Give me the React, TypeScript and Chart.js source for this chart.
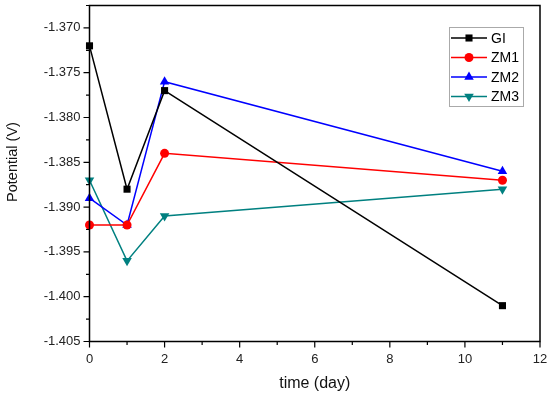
import { useEffect, useRef } from 'react';
import { Chart, registerables } from 'chart.js';
Chart.register(...registerables);

const days = [0, 1, 2, 11];
const giValues = [-1.372, -1.388, -1.377, -1.401];
const zm1Values = [-1.392, -1.392, -1.384, -1.387];
const zm2Values = [-1.389, -1.392, -1.376, -1.386];
const zm3Values = [-1.387, -1.396, -1.391, -1.388];
const seriesNames = ['GI', 'ZM1', 'ZM2', 'ZM3'];
const xTicks = [0, 2, 4, 6, 8, 10, 12];
const xMinorTicks = [1, 3, 5, 7, 9, 11];
const yTicks = [-1.405, -1.4, -1.395, -1.39, -1.385, -1.38, -1.375, -1.37];
const yMinorTicks = [-1.4025, -1.3975, -1.3925, -1.3875, -1.3825, -1.3775, -1.3725, -1.3675];
const yTitle = 'Potential (V)';
const xTitle = 'time (day)';

const FONT = 'Liberation Sans, Arial, sans-serif';

function drawMarker(ctx: CanvasRenderingContext2D, style: string, r: number, rot: number, x: number, y: number) {
  ctx.beginPath();
  if (style === 'rect') {
    const s = r * Math.SQRT1_2;
    ctx.rect(x - s, y - s, 2 * s, 2 * s);
  } else if (style === 'circle') {
    ctx.arc(x, y, r, 0, Math.PI * 2);
  } else {
    const a0 = (rot * Math.PI) / 180 - Math.PI / 2;
    for (let k = 0; k < 3; k++) {
      const a = a0 + (k * 2 * Math.PI) / 3;
      const px = x + r * Math.cos(a);
      const py = y + r * Math.sin(a);
      if (k === 0) ctx.moveTo(px, py); else ctx.lineTo(px, py);
    }
    ctx.closePath();
  }
  ctx.fill();
}

const framePlugin = {
  id: 'frame',
  afterDraw(chart: any) {
    const ctx = chart.ctx;
    const { left, right, top, bottom } = chart.chartArea;
    const xs = chart.scales.x;
    const ys = chart.scales.y;
    ctx.save();
    ctx.strokeStyle = '#000';
    ctx.lineWidth = 1.5;
    ctx.strokeRect(left, top, right - left, bottom - top);
    ctx.lineWidth = 1.2;
    ctx.beginPath();
    xTicks.forEach((v) => {
      const px = xs.getPixelForValue(v);
      ctx.moveTo(px, bottom);
      ctx.lineTo(px, bottom + 6);
    });
    xMinorTicks.forEach((v) => {
      const px = xs.getPixelForValue(v);
      ctx.moveTo(px, bottom);
      ctx.lineTo(px, bottom + 3.5);
    });
    yTicks.forEach((v) => {
      const py = ys.getPixelForValue(v);
      ctx.moveTo(left, py);
      ctx.lineTo(left - 6, py);
    });
    yMinorTicks.forEach((v) => {
      const py = ys.getPixelForValue(v);
      ctx.moveTo(left, py);
      ctx.lineTo(left - 3.5, py);
    });
    ctx.stroke();

    // y axis title
    ctx.save();
    ctx.translate(13, 162);
    ctx.rotate(-Math.PI / 2);
    ctx.fillStyle = '#111';
    ctx.font = `14.5px ${FONT}`;
    ctx.textAlign = 'center';
    ctx.textBaseline = 'middle';
    ctx.fillText(yTitle, 0, 0);
    ctx.restore();

    // legend
    const bx = 449, by = 27, bw = 74, bh = 79;
    ctx.fillStyle = '#fff';
    ctx.fillRect(bx, by, bw, bh);
    ctx.strokeStyle = '#aaa';
    ctx.lineWidth = 1;
    ctx.strokeRect(bx + 0.5, by + 0.5, bw, bh);
    chart.data.datasets.forEach((ds: any, i: number) => {
      const y = 38 + i * 19.5;
      ctx.strokeStyle = ds.borderColor;
      ctx.lineWidth = 1.5;
      ctx.beginPath();
      ctx.moveTo(451, y);
      ctx.lineTo(487, y);
      ctx.stroke();
      ctx.fillStyle = ds.backgroundColor;
      drawMarker(ctx, ds.pointStyle, ds.pointRadius, ds.pointRotation || 0, 469, y);
      ctx.fillStyle = '#000';
      ctx.font = `14px ${FONT}`;
      ctx.textBaseline = 'middle';
      ctx.textAlign = 'left';
      ctx.fillText(ds.label, 491, y + 1);
    });
    ctx.restore();
  },
};

export default function App() {
  const ref = useRef<HTMLCanvasElement>(null);
  useEffect(() => {
    document.body.style.margin = '0';
    const colors = ['#000000', '#ff0000', '#0000ff', '#008080'];
    const styles = ['rect', 'circle', 'triangle', 'triangle'];
    const radii = [5, 4.5, 5.5, 5.5];
    const rotations = [0, 0, 0, 180];
    const values = [giValues, zm1Values, zm2Values, zm3Values];
    const chart = new Chart(ref.current!, {
      type: 'line',
      data: {
        datasets: values.map((vals, i) => ({
          label: seriesNames[i],
          data: days.map((d, j) => ({ x: d, y: vals[j] })),
          borderColor: colors[i],
          backgroundColor: colors[i],
          pointBackgroundColor: colors[i],
          pointBorderColor: colors[i],
          pointBorderWidth: 0,
          pointStyle: styles[i] as any,
          pointRadius: radii[i],
          pointRotation: rotations[i],
          borderWidth: 1.5,
          tension: 0,
          clip: false as any,
        })),
      },
      options: {
        responsive: false,
        animation: false,
        layout: { padding: { top: 5, right: 10, left: 0, bottom: 0 } },
        plugins: { legend: { display: false }, tooltip: { enabled: false } },
        scales: {
          x: {
            type: 'linear',
            min: 0,
            max: 12,
            afterBuildTicks: (s: any) => { s.ticks = xTicks.map((v) => ({ value: v })); },
            afterFit: (s: any) => { s.height = 53.5; s.paddingLeft = 0; s.paddingRight = 0; },
            grid: { display: true, drawOnChartArea: false, drawTicks: true, tickLength: 6, tickColor: 'transparent' },
            border: { display: false },
            ticks: { padding: 4, color: '#222', font: { family: FONT, size: 13 }, maxRotation: 0 },
            title: { display: true, text: xTitle, color: '#111', font: { family: FONT, size: 16 }, padding: { top: 0, bottom: 2 } },
          },
          y: {
            type: 'linear',
            min: -1.405,
            max: -1.3675,
            afterBuildTicks: (s: any) => { s.ticks = yTicks.map((v) => ({ value: v })); },
            afterFit: (s: any) => { s.width = 89.5; s.paddingTop = 0; s.paddingBottom = 0; },
            grid: { display: true, drawOnChartArea: false, drawTicks: true, tickLength: 6, tickColor: 'transparent' },
            border: { display: false },
            ticks: { padding: 3, color: '#222', font: { family: FONT, size: 13 }, callback: (v: any) => Number(v).toFixed(3) },
            title: { display: false },
          },
        },
      },
      plugins: [framePlugin],
    });
    return () => chart.destroy();
  }, []);
  return <canvas ref={ref} width={550} height={395} style={{ display: 'block' }} />;
}
